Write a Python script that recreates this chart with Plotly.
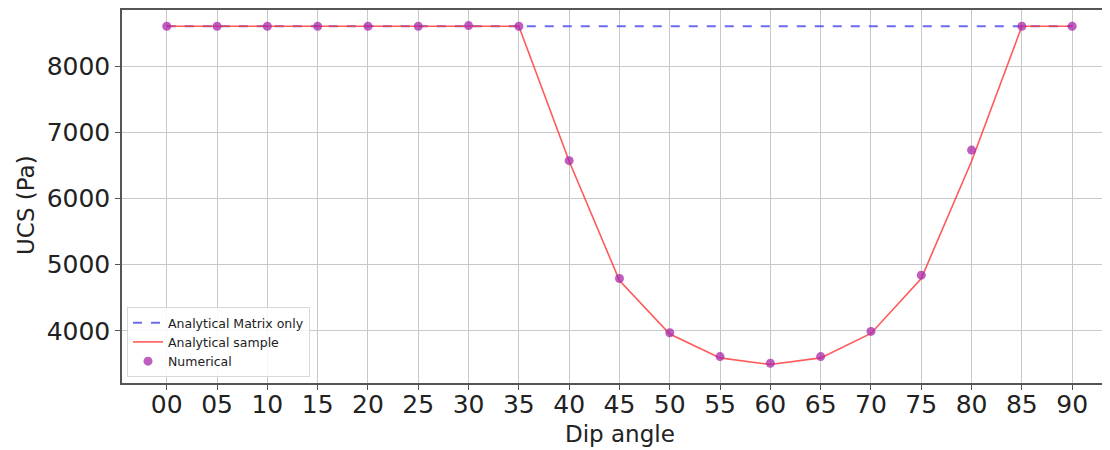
import plotly.graph_objects as go

dip = [0, 5, 10, 15, 20, 25, 30, 35, 40, 45, 50, 55, 60, 65, 70, 75, 80, 85, 90]
tick_labels = ["00", "05", "10", "15", "20", "25", "30", "35", "40", "45",
               "50", "55", "60", "65", "70", "75", "80", "85", "90"]
matrix_only = [8600] * 19
analytical = [8600, 8600, 8600, 8600, 8600, 8600, 8600, 8600, 6560, 4760, 3950,
              3590, 3490, 3590, 3960, 4790, 6560, 8600, 8600]
numerical = [8600, 8600, 8600, 8600, 8600, 8600, 8610, 8600, 6570, 4790, 3970,
             3610, 3510, 3610, 3990, 4840, 6730, 8600, 8600]

fig = go.Figure()
fig.add_trace(go.Scatter(x=dip, y=matrix_only, mode="lines", name="Analytical Matrix only",
                         line=dict(color="rgba(70,70,230,0.8)", width=2, dash="dash")))
fig.add_trace(go.Scatter(x=dip, y=analytical, mode="lines", name="Analytical sample",
                         line=dict(color="rgba(255,60,60,0.85)", width=1.6)))
fig.add_trace(go.Scatter(x=dip, y=numerical, mode="markers", name="Numerical",
                         marker=dict(color="rgba(170,40,170,0.75)", size=9, symbol="circle")))

font = "DejaVu Sans"
OFF = 8  # page body margin
W, H = 1110 - OFF, 450 - OFF
L, T = 122 - OFF, 10 - OFF
PB = 383 - OFF
B = H - PB
plot_h = PB - T
plot_w = W - L


def px(xv):
    return (xv - OFF - L) / plot_w


def py(yv):
    return (PB - (yv - OFF)) / plot_h


fig.update_layout(
    width=W, height=H,
    margin=dict(l=L, r=0, t=T, b=B, autoexpand=False),
    paper_bgcolor="white", plot_bgcolor="white",
    font=dict(family=font, color="#222"),
    showlegend=True,
    legend=dict(x=px(127), y=py(377), xanchor="left", yanchor="bottom",
                bgcolor="rgba(255,255,255,0.85)", bordercolor="#d8d8d8", borderwidth=1,
                font=dict(size=12.5, family=font), tracegroupgap=0, itemwidth=30),
    annotations=[
        dict(text="Dip angle", xref="paper", yref="paper", x=px(620), y=py(434),
             xanchor="center", yanchor="middle",
             showarrow=False, font=dict(size=23, family=font, color="#222")),
        dict(text="UCS (Pa)", xref="paper", yref="paper", x=px(26), y=py(205),
             xanchor="center", yanchor="middle",
             textangle=-90, showarrow=False, font=dict(size=23, family=font, color="#222")),
    ],
)
fig.update_xaxes(
    range=[-4.45, 93.76], tickmode="array", tickvals=dip, ticktext=tick_labels,
    showgrid=True, gridcolor="#c8c8c8", gridwidth=1,
    showline=True, linecolor="#555", linewidth=1.5, mirror=True,
    ticks="outside", ticklen=5, tickcolor="#555",
    tickfont=dict(size=25, family=font), ticklabelstandoff=-7,
    zeroline=False, automargin=False,
)
fig.update_yaxes(
    range=[3211, 8846], tickvals=[4000, 5000, 6000, 7000, 8000],
    showgrid=True, gridcolor="#c8c8c8", gridwidth=1,
    showline=True, linecolor="#555", linewidth=1.5, mirror=False,
    ticks="outside", ticklen=5, tickcolor="#555",
    tickfont=dict(size=25, family=font),
    zeroline=False, automargin=False,
)
fig.write_html("out.html")
